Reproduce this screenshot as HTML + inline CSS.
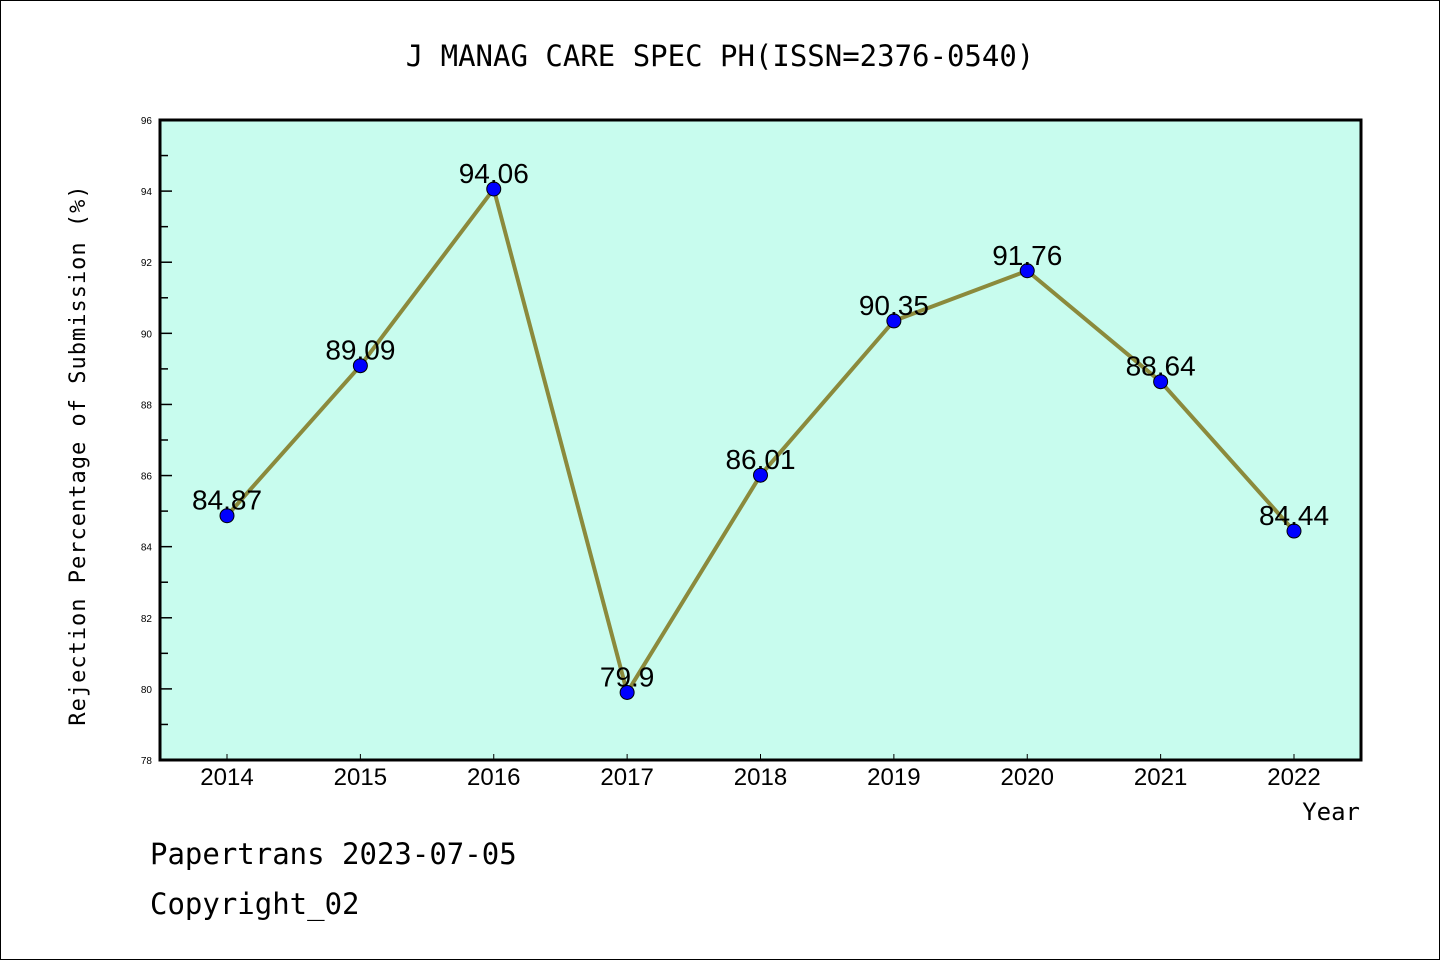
<!DOCTYPE html>
<html><head><meta charset="utf-8"><style>
html,body{margin:0;padding:0;background:#fff;}
svg{display:block;font-family:"DejaVu Sans Mono","Liberation Mono",monospace;}
</style></head><body>
<svg id="c" width="1440" height="960" viewBox="0 0 1440 960">
<rect x="0.5" y="0.5" width="1439" height="959" fill="#fff" stroke="#000" stroke-width="1"/>
<text x="720" y="66" text-anchor="middle" font-size="29">J MANAG CARE SPEC PH(ISSN=2376-0540)</text>
<rect x="160" y="120" width="1201" height="640" fill="#c8fcee"/>
<g id="axes"></g>
<g id="series"></g>
<rect x="160" y="120" width="1201" height="640" fill="none" stroke="#000" stroke-width="3"/>
<text transform="translate(85,455) rotate(-90)" text-anchor="middle" font-size="22" letter-spacing="1">Rejection Percentage of Submission (%)</text>
<text x="1360" y="820" text-anchor="end" font-size="24">Year</text>
<text x="150" y="864" font-size="29">Papertrans 2023-07-05</text>
<text x="150" y="914" font-size="29">Copyright_02</text>
</svg>
<script>
const years = ["2014","2015","2016","2017","2018","2019","2020","2021","2022"];
const values = [84.87, 89.09, 94.06, 79.9, 86.01, 90.35, 91.76, 88.64, 84.44];
const valueLabels = ["84.87","89.09","94.06","79.9","86.01","90.35","91.76","88.64","84.44"];
const yTicks = [78,80,82,84,86,88,90,92,94,96];

(function(){
const NS="http://www.w3.org/2000/svg";
const yMin=78,yMax=96,pTop=120,pBot=760;
const sy=v=>pBot-(v-yMin)/(yMax-yMin)*(pBot-pTop);
const sx=i=>227+i*(1294-227)/(years.length-1);
function mk(t,a,p){const e=document.createElementNS(NS,t);for(const k in a)e.setAttribute(k,a[k]);p.appendChild(e);return e;}
const ax=document.getElementById('axes'), se=document.getElementById('series');
yTicks.forEach((v,i)=>{
  const l=mk('line',{x1:160,x2:172,y1:sy(v),y2:sy(v),stroke:'#000','stroke-width':1.5},ax);
  
  
  const t=mk('text',{x:152,y:sy(v)+4,'text-anchor':'end','font-size':10,'font-family':'Liberation Sans, sans-serif'},ax);
  t.textContent=v;
  
  
  if(i<yTicks.length-1){
    const m=mk('line',{x1:160,x2:168,y1:sy(v+1),y2:sy(v+1),stroke:'#000','stroke-width':1.5},ax);
    
    
  }
});
years.forEach((yr,i)=>{
  const l=mk('line',{x1:sx(i),x2:sx(i),y1:760,y2:754,stroke:'#000','stroke-width':1},ax);
  
  
  const t=mk('text',{x:sx(i),y:785,'text-anchor':'middle','font-size':24,'font-family':'Liberation Sans, sans-serif'},ax);
  t.textContent=yr;
  
  
});
const pl=mk('polyline',{points:values.map((v,i)=>sx(i)+','+sy(v)).join(' '),fill:'none',stroke:'#8b8a3c','stroke-width':4,'stroke-linejoin':'round'},se);


values.forEach((v,i)=>{
  const c=mk('circle',{cx:sx(i),cy:sy(v),r:7,fill:'#0000ff',stroke:'#000','stroke-width':1},se);
  
  
});
values.forEach((v,i)=>{
  const t=mk('text',{x:sx(i),y:sy(v)-6,'text-anchor':'middle','font-size':28,'font-family':'Liberation Sans, sans-serif'},se);
  t.textContent=valueLabels[i];
  
  
});
})();
</script>
</body></html>
